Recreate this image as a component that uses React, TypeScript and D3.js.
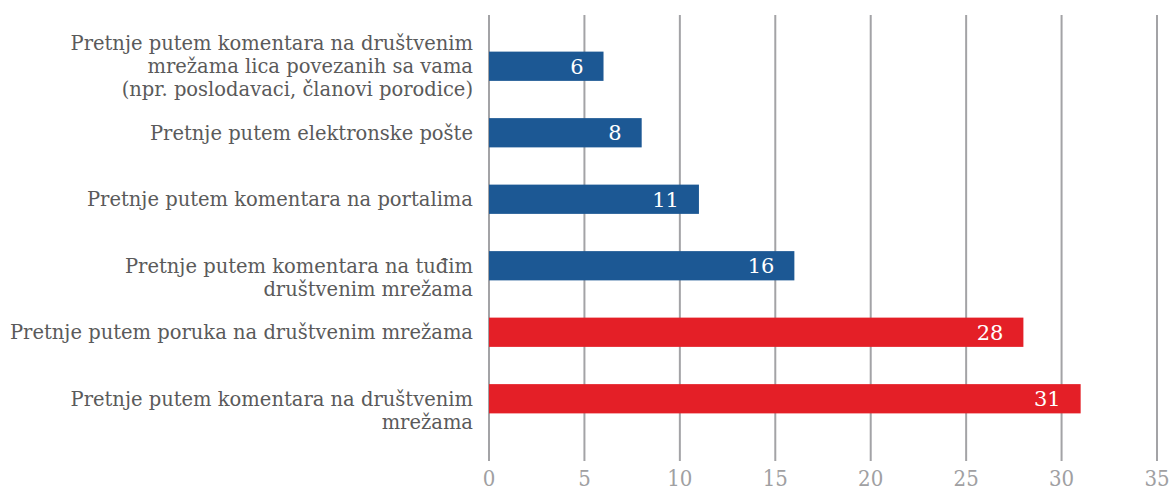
import React from "react";
import * as d3 from "d3";

const categories: string[][] = [
  ["Pretnje putem komentara na društvenim", "mrežama lica povezanih sa vama", "(npr. poslodavaci, članovi porodice)"],
  ["Pretnje putem elektronske pošte"],
  ["Pretnje putem komentara na portalima"],
  ["Pretnje putem komentara na tuđim", "društvenim mrežama"],
  ["Pretnje putem poruka na društvenim mrežama"],
  ["Pretnje putem komentara na društvenim", "mrežama"],
];
const values: number[] = [6, 8, 11, 16, 28, 31];
const highlight: boolean[] = [false, false, false, false, true, true];
const ticks: number[] = [0, 5, 10, 15, 20, 25, 30, 35];

const W = 1170;
const H = 492;
const x0 = 489;
const x1 = 1157;
const gridTop = 15;
const gridBottom = 461;

export default function App() {
  const x = d3.scaleLinear().domain([0, 35]).range([x0, x1]);
  const idx = values.map((_, i) => String(i));
  const y = d3.scaleBand().domain(idx).range([33, 432]).paddingInner(0.56).paddingOuter(0.28);
  const bh = y.bandwidth();
  const lh = 23;
  const labelFont = "'DejaVu Serif', serif";
  return (
    <svg width={W} height={H} style={{ position: "absolute", left: 0, top: 0 }}>
      <rect width={W} height={H} fill="#fff" />
      {ticks.map((t) => (
        <g key={t}>
          <line x1={x(t)} x2={x(t)} y1={gridTop} y2={gridBottom} stroke="#a3a3a6" strokeWidth={2} />
          <text x={x(t)} y={486} textAnchor="middle" fontSize={22} fill="#a0a0a2" fontFamily="'DejaVu Serif Condensed', 'DejaVu Serif', serif" fontWeight={300}>{t}</text>
        </g>
      ))}
      {values.map((v, i) => {
        const yy = y(String(i))!;
        const cy = yy + bh / 2;
        const lines = categories[i];
        const start = cy - Math.floor((lines.length - 1) / 2) * lh;
        return (
          <g key={i}>
            <rect x={x(0)} y={yy} width={x(v) - x(0)} height={bh} fill={highlight[i] ? "#e41f27" : "#1c5894"} />
            <text x={x(v) - 20} y={cy} dy="0.36em" textAnchor="end" fontSize={21} fill="#fff" fontFamily={labelFont}>{v}</text>
            <text x={473} y={start} dy="0.36em" textAnchor="end" fontSize={19.5} fill="#5a5a5a" fontFamily={labelFont}>
              {lines.map((l, j) => (
                <tspan key={j} x={473} y={start + j * lh} dy="0.36em">{l}</tspan>
              ))}
            </text>
          </g>
        );
      })}
    </svg>
  );
}
